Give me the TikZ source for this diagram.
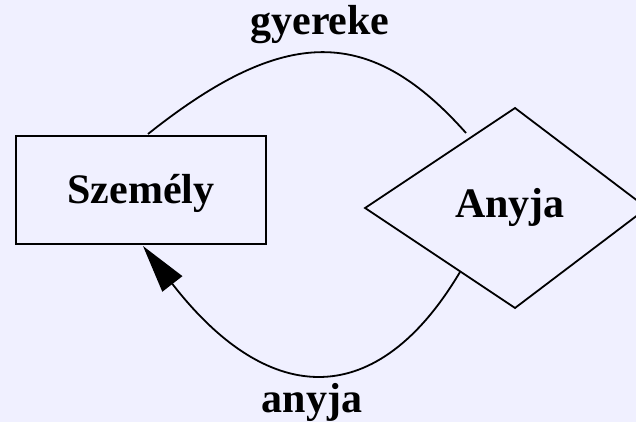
\documentclass[tikz,border=0pt]{standalone}
\usepackage{fontspec}
\setmainfont{Liberation Serif}
\usetikzlibrary{arrows.meta}
\definecolor{bgcol}{RGB}{240,240,255}
\tikzset{
  lbl/.style={font=\fontsize{42}{50}\selectfont\bfseries, inner sep=0pt, anchor=base},
  edge/.style={draw=black, line width=1.8pt},
  entity/.style={draw=black, line width=1.8pt, rectangle, minimum width=250pt, minimum height=108pt, inner sep=0pt, text height=30pt, text depth=4pt, font=\fontsize{42}{50}\selectfont\bfseries}
}
\begin{document}
\begin{tikzpicture}[x=1pt,y=-1pt]
\fill[bgcol] (0,0) rectangle (636,422);
\useasboundingbox (0,0) rectangle (636,422);
% entity
\node[entity] (szemely) at (141,190) {Személy};
% relationship diamond
\coordinate (dT) at (515,108);
\coordinate (dR) at (647,208);
\coordinate (dB) at (515,308);
\coordinate (dL) at (365,208);
\draw[edge, line join=miter] (dT) -- (dR) -- (dB) -- (dL) -- cycle;
\node[lbl] (anyja) at (510,217) {Anyja};
% connector end points
\coordinate (g1) at (148,134);
\coordinate (g2) at (466,133);
\coordinate (a1) at (460,272);
\coordinate (a2) at (143,246);
\draw[edge] (g1) .. controls (285,25) and (370,25) .. (g2);
\draw[edge, -{Triangle[length=48pt,width=25pt]}] (a1) .. controls (378,410) and (270,410) .. (a2);
% labels
\node[lbl] (lgyereke) at (320,35) {gyereke};
\node[lbl] (lanyja) at (312,412) {anyja};
\end{tikzpicture}
\end{document}
